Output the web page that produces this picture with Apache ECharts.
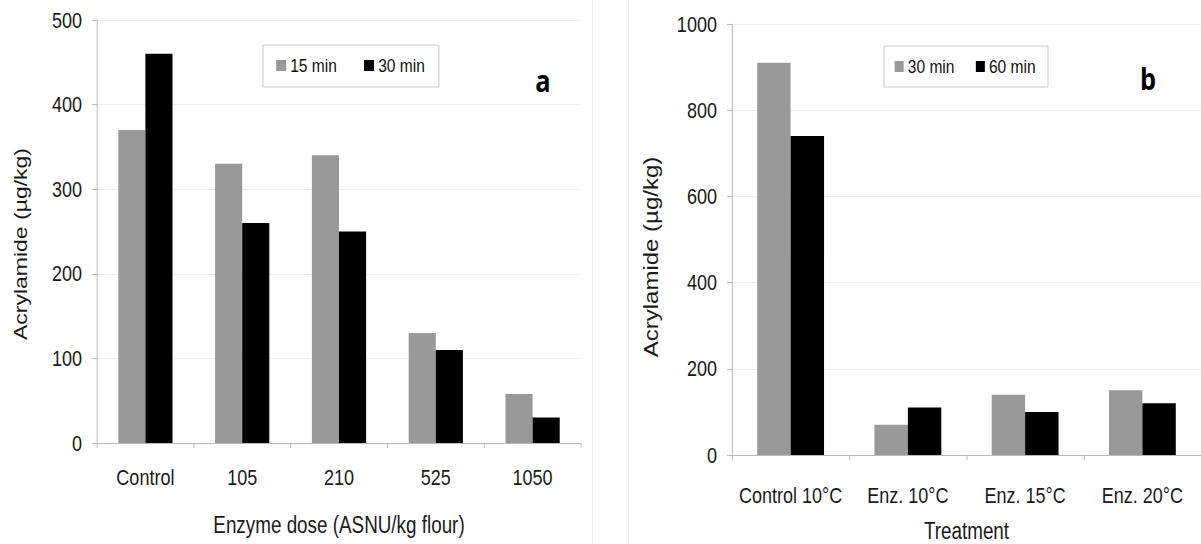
<!DOCTYPE html>
<html>
<head>
<meta charset="utf-8">
<title>Acrylamide content by enzyme dose and treatment</title>
<script src="https://cdn.jsdelivr.net/npm/echarts@6/dist/echarts.min.js"></script>
<style>
  html, body { margin: 0; padding: 0; background: #fff; }
  #wrap { position: relative; width: 1201px; height: 544px; overflow: hidden; background: #fff; }
  /* Each panel is laid out wide and squeezed horizontally, giving the tall, narrow type of the figure */
  .panel { position: absolute; top: 0; height: 544px; transform-origin: 0 0; }
  #chartA { left: 0; }
  #chartB { left: 600px; }
</style>
</head>
<body>
<div id="wrap">
  <div id="chartA" class="panel"></div>
  <div id="chartB" class="panel"></div>
</div>
<script>
// Panel a: enzyme dose
const doseCategories = ['Control', '105', '210', '525', '1050'];
const dose15min = [370, 330, 340, 130, 58];
const dose30min = [460, 260, 250, 110, 30];
const doseTicks = { min: 0, max: 500, interval: 100 };

// Panel b: treatment temperature
const treatCategories = ['Control 10°C', 'Enz. 10°C', 'Enz. 15°C', 'Enz. 20°C'];
const treat30min = [910, 70, 140, 150];
const treat60min = [740, 110, 100, 120];
const treatTicks = { min: 0, max: 1000, interval: 200 };

const GREY = '#999999';
const BLACK = '#000000';
const FONT = '"Liberation Sans", Arial, sans-serif';
const AXIS_COLOR = '#b4b4b4';

// horizontal squeeze applied to each panel
const S = 0.82;
const sx = v => v / S;

function panelOption(cfg) {
  return {
    animation: false,
    backgroundColor: '#fff',
    grid: Object.assign({ outerBoundsMode: 'none', containLabel: false }, cfg.grid),
    legend: {
      data: cfg.names,
      left: cfg.legend.left,
      top: cfg.legend.top,
      orient: 'horizontal',
      itemWidth: cfg.legend.itemWidth,
      itemHeight: 11,
      itemGap: cfg.legend.itemGap,
      padding: cfg.legend.padding,
      borderColor: '#c4c4c4',
      borderWidth: 1,
      icon: 'rect',
      textStyle: { fontFamily: FONT, fontSize: 19, color: '#111' }
    },
    xAxis: {
      type: 'category',
      data: cfg.categories,
      axisLine: { lineStyle: { color: AXIS_COLOR, width: 1 } },
      axisTick: { show: true, length: 5, lineStyle: { color: AXIS_COLOR } },
      axisLabel: { fontFamily: FONT, fontSize: 22, color: '#1a1a1a', margin: cfg.labelMargin, interval: 0 },
      name: cfg.xName,
      nameLocation: 'middle',
      nameGap: cfg.xNameGap,
      nameTextStyle: { fontFamily: FONT, fontSize: 23, color: '#1a1a1a' }
    },
    yAxis: {
      type: 'value',
      min: cfg.ticks.min,
      max: cfg.ticks.max,
      interval: cfg.ticks.interval,
      axisLine: { show: true, lineStyle: { color: AXIS_COLOR, width: 1 } },
      axisTick: { show: true, length: sx(5), lineStyle: { color: AXIS_COLOR } },
      axisLabel: {
        fontFamily: FONT, fontSize: 22, color: '#1a1a1a', margin: sx(15),
        formatter: v => String(v)
      },
      splitLine: { show: true, lineStyle: { color: '#ebebeb', width: 1 } }
    },
    graphic: [
      {
        type: 'text',
        x: cfg.yTitle.x,
        y: cfg.yTitle.y,
        rotation: Math.PI / 2,
        style: {
          text: 'Acrylamide (µg/kg)',
          fontFamily: FONT,
          fontSize: cfg.yTitle.size,
          fill: '#1a1a1a',
          align: 'center',
          verticalAlign: 'middle'
        }
      },
      {
        type: 'text',
        x: cfg.letter.x,
        y: cfg.letter.y,
        style: {
          text: cfg.letter.text,
          fontFamily: '"Open Sans", "Noto Sans", sans-serif',
          fontWeight: 'bold',
          fontSize: 31,
          fill: '#000',
          align: 'center',
          verticalAlign: 'middle'
        }
      }
    ].concat(cfg.frames),
    series: [
      {
        name: cfg.names[0],
        type: 'bar',
        data: cfg.values[0],
        barGap: '0%',
        barCategoryGap: cfg.catGap,
        itemStyle: { color: GREY }
      },
      {
        name: cfg.names[1],
        type: 'bar',
        data: cfg.values[1],
        barGap: '0%',
        barCategoryGap: cfg.catGap,
        itemStyle: { color: BLACK }
      }
    ]
  };
}

function mountPanel(id, visibleWidth) {
  const el = document.getElementById(id);
  el.style.width = sx(visibleWidth) + 'px';
  el.style.transform = 'scaleX(' + S + ')';
  return echarts.init(el, null, { renderer: 'svg' });
}

const chartA = mountPanel('chartA', 600);
chartA.setOption(panelOption({
  grid: { left: sx(97), top: 20, width: sx(484), height: 423 },
  categories: doseCategories,
  names: ['15 min', '30 min'],
  values: [dose15min, dose30min],
  ticks: doseTicks,
  catGap: '44%',
  labelMargin: 23,
  xName: 'Enzyme dose (ASNU/kg flour)',
  xNameGap: 70,
  legend: { left: sx(263), top: 45, itemWidth: sx(10), itemGap: 33, padding: [11, 17, 12, 16] },
  yTitle: { x: sx(20), y: 244, size: 23 },
  letter: { x: sx(543), y: 80, text: 'a' },
  frames: [
    { type: 'line', shape: { x1: sx(592.5), y1: 0, x2: sx(592.5), y2: 544 }, style: { stroke: '#efefef', lineWidth: 1 } }
  ]
}));

const chartB = mountPanel('chartB', 601);
chartB.setOption(panelOption({
  grid: { left: sx(132), top: 24, width: sx(469), height: 431 },
  categories: treatCategories,
  names: ['30 min', '60 min'],
  values: [treat30min, treat60min],
  ticks: treatTicks,
  catGap: '43%',
  labelMargin: 29,
  xName: 'Treatment',
  xNameGap: 64,
  legend: { left: sx(284), top: 46, itemWidth: sx(9), itemGap: 26, padding: [11, 15, 11, 13] },
  yTitle: { x: sx(51), y: 257, size: 24 },
  letter: { x: sx(548), y: 78, text: 'b' },
  frames: [
    { type: 'line', shape: { x1: sx(28.5), y1: 0, x2: sx(28.5), y2: 544 }, style: { stroke: '#efefef', lineWidth: 1 } }
  ]
}));
</script>
</body>
</html>
